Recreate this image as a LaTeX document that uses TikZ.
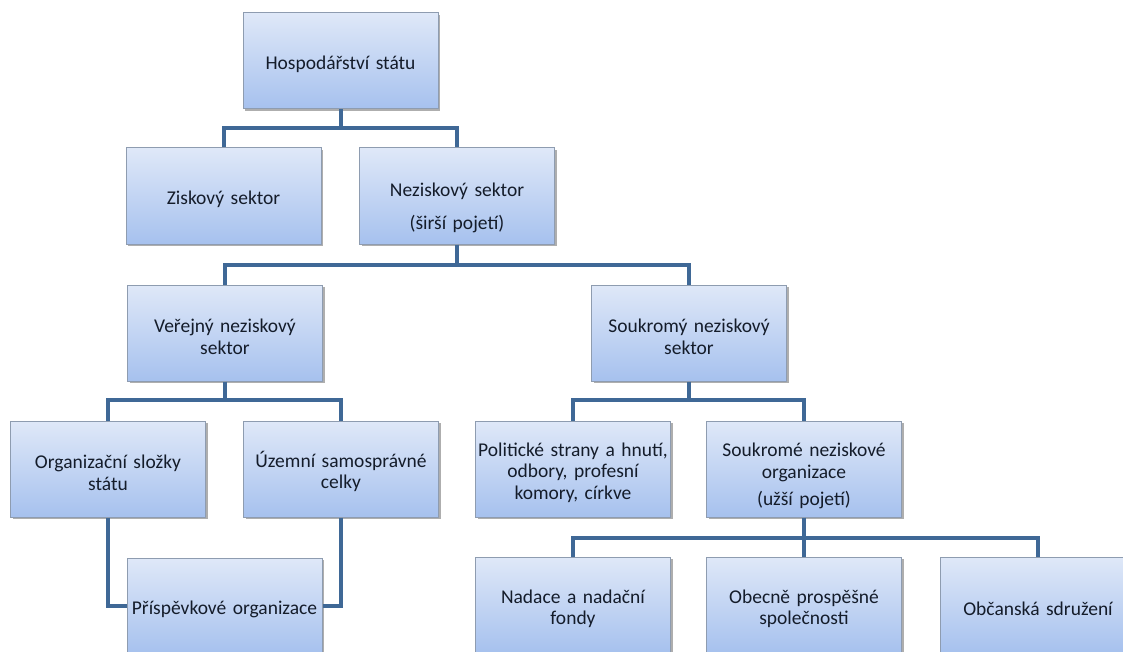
\documentclass[tikz,border=0pt]{standalone}
\usepackage{fontspec}
\setmainfont{Carlito}
\usetikzlibrary{shadows}
\definecolor{conncol}{HTML}{3F6896}
\definecolor{boxtop}{HTML}{DFE8F8}
\definecolor{boxbot}{HTML}{A6C1EE}
\definecolor{boxline}{HTML}{8E9CB0}
\definecolor{txtcol}{HTML}{141C2A}
\begin{document}
\begin{tikzpicture}[x=1pt,y=-1pt,
  orgbox/.style={rectangle, draw=boxline, line width=1pt,
    top color=boxtop, bottom color=boxbot,
    minimum width=195pt, minimum height=96pt, inner sep=0pt,
    text width=194pt, align=center, text=txtcol,
    font=\fontsize{19.5}{21.5}\selectfont,
    execute at begin node={\rule{0pt}{21pt}},
    drop shadow={shadow xshift=2pt, shadow yshift=-2pt, opacity=0.45, fill=black!70}},
  conn/.style={draw=conncol, line width=4pt}]
\useasboundingbox (0,0) rectangle (1123,652);
\clip (0,0) rectangle (1123,652);
\fill[white] (0,0) rectangle (1123,652);

% level 1
\node[orgbox] (hosp) at (340.5,61) {Hospodářství státu};
% level 2
\node[orgbox] (zisk) at (223.5,196) {Ziskový sektor};
\node[orgbox, execute at begin node={\rule{0pt}{37pt}}] (nezisk) at (457,196) {Neziskový sektor\\[11pt](širší pojetí)};
% level 3
\node[orgbox] (verej) at (225,333) {Veřejný neziskový\\sektor};
\node[orgbox] (soukr) at (689,333) {Soukromý neziskový\\sektor};
% level 4
\node[orgbox] (org) at (108,469) {Organizační složky\\státu};
\node[orgbox] (uzem) at (341,469) {Územní samosprávné\\celky};
\node[orgbox] (polit) at (573,469) {Politické strany a hnutí,\\odbory, profesní\\komory, církve};
\node[orgbox, execute at begin node={\rule{0pt}{28pt}}] (souknez) at (804,469) {Soukromé neziskové\\organizace\\[6pt](užší pojetí)};
% level 5
\node[orgbox, execute at begin node={}] (prisp) at (224.5,606) {Příspěvkové organizace};
\node[orgbox] (nadace) at (573,605) {Nadace a nadační\\fondy};
\node[orgbox] (obecne) at (804,605) {Obecně prospěšné\\společnosti};
\node[orgbox] (obcan) at (1038,605) {Občanská sdružení};

% connectors
\coordinate (b1) at (0,128);
\coordinate (b2) at (0,265);
\coordinate (b3) at (0,400);
\coordinate (b4) at (0,538);
\draw[conn] (hosp.south) -- (hosp.south |- b1) -| (zisk.north);
\draw[conn] (hosp.south |- b1) -| (nezisk.north);
\draw[conn] (nezisk.south) -- (nezisk.south |- b2) -| (verej.north);
\draw[conn] (nezisk.south |- b2) -| (soukr.north);
\draw[conn] (verej.south) -- (verej.south |- b3) -| (org.north);
\draw[conn] (verej.south |- b3) -| (uzem.north);
\draw[conn] (soukr.south) -- (soukr.south |- b3) -| (polit.north);
\draw[conn] (soukr.south |- b3) -| (souknez.north);
\draw[conn] (souknez.south) -- (souknez.south |- b4) -| (nadace.north);
\draw[conn] (souknez.south |- b4) -| (obecne.north);
\draw[conn] (souknez.south |- b4) -| (obcan.north);
\draw[conn] (org.south) |- (prisp.west);
\draw[conn] (uzem.south) |- (prisp.east);
\end{tikzpicture}
\end{document}
